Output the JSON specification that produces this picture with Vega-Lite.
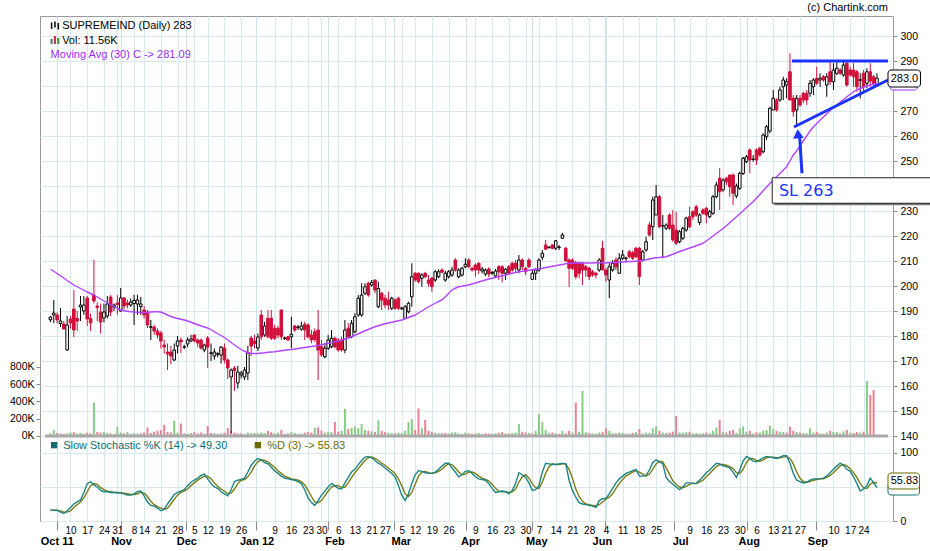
{
"$schema": "https://vega.github.io/schema/vega-lite/v6.json",
"width": 853, "height": 505,
"autosize": {"type": "none"},
"padding": {"left": 40, "top": 16, "right": 37, "bottom": 30},
"background": "#ffffff",
"config": {
  "view": {"stroke": "#9a9a9a", "strokeWidth": 1},
  "font": "Liberation Sans",
  "text": {"font": "Liberation Sans"},
  "axis": {"domain": false, "labelFont": "Liberation Sans", "gridColor": "#d8e9ee", "gridOpacity": 1, "gridWidth": 1, "tickColor": "#8a8a8a", "labelColor": "#000000"}
},
"datasets": {"p": [
{"i":0,"o":186.5,"h":188,"l":185.5,"c":187.6,"v":30,"m":206.7,"k":16,"d":16},
{"i":1,"o":188.4,"h":194.4,"l":185.2,"c":189.2,"v":70,"m":205.9,"k":16,"d":16},
{"i":2,"o":188.4,"h":189.5,"l":185,"c":186.4,"v":35,"m":205,"k":15.5,"d":16},
{"i":3,"o":185,"h":191.2,"l":183.6,"c":186,"v":28,"m":204.1,"k":13,"d":15},
{"i":4,"o":184.8,"h":186,"l":183,"c":182.8,"v":25,"m":203.2,"k":11,"d":13},
{"i":5,"o":174.4,"h":188,"l":174,"c":184.4,"v":30,"m":202.2,"k":15,"d":13},
{"i":6,"o":186.8,"h":188,"l":183,"c":185.2,"v":42,"m":201.3,"k":20,"d":15},
{"i":7,"o":190.8,"h":198.4,"l":179.6,"c":182.4,"v":45,"m":200.4,"k":25,"d":20},
{"i":8,"o":187,"h":190,"l":182,"c":186,"v":30,"m":199.7,"k":28,"d":24},
{"i":9,"o":191.6,"h":196,"l":186,"c":192.4,"v":35,"m":199,"k":31,"d":28},
{"i":10,"o":190,"h":196,"l":188.5,"c":192.4,"v":28,"m":198.3,"k":42,"d":34},
{"i":11,"o":195.2,"h":196,"l":184,"c":186.8,"v":40,"m":197.6,"k":55,"d":43},
{"i":12,"o":187,"h":189,"l":182,"c":185.2,"v":30,"m":197,"k":58,"d":52},
{"i":13,"o":196.4,"h":210.4,"l":193,"c":194,"v":385,"m":196.4,"k":53,"d":55},
{"i":14,"o":192,"h":193.5,"l":186,"c":191.4,"v":45,"m":195.6,"k":50,"d":54},
{"i":15,"o":189.6,"h":193,"l":181,"c":185.6,"v":40,"m":194.8,"k":45,"d":49},
{"i":16,"o":187.2,"h":193,"l":185.5,"c":189.6,"v":50,"m":194,"k":43,"d":46},
{"i":17,"o":188,"h":196,"l":187,"c":192.8,"v":35,"m":193.3,"k":43,"d":44},
{"i":18,"o":195.6,"h":196.4,"l":188,"c":189.6,"v":30,"m":192.5,"k":42,"d":43},
{"i":19,"o":191.6,"h":193,"l":190,"c":192.4,"v":22,"m":191.8,"k":42,"d":42},
{"i":20,"o":193.2,"h":196.4,"l":188.5,"c":192.6,"v":108,"m":191,"k":41.5,"d":42},
{"i":21,"o":190,"h":199.2,"l":189.8,"c":195.2,"v":40,"m":190.4,"k":41,"d":41.5},
{"i":22,"o":195.2,"h":195.6,"l":190.5,"c":192,"v":30,"m":190.1,"k":40,"d":41},
{"i":23,"o":193.2,"h":194.5,"l":191,"c":192.4,"v":45,"m":189.9,"k":38,"d":40},
{"i":24,"o":192.4,"h":195,"l":191.6,"c":193.6,"v":25,"m":189.7,"k":38,"d":39},
{"i":25,"o":193,"h":196.5,"l":184.4,"c":194.2,"v":35,"m":189.6,"k":40,"d":39},
{"i":26,"o":192.8,"h":196.5,"l":188.5,"c":194.4,"v":25,"m":189.5,"k":43,"d":40},
{"i":27,"o":191.8,"h":195.6,"l":188.5,"c":192.8,"v":30,"m":189.4,"k":44,"d":42},
{"i":28,"o":190.4,"h":192,"l":187,"c":188.4,"v":40,"m":189.3,"k":37,"d":41},
{"i":29,"o":189.6,"h":190.4,"l":183.2,"c":184.4,"v":100,"m":189.5,"k":28,"d":36},
{"i":30,"o":183.5,"h":186.4,"l":178.4,"c":183.7,"v":35,"m":189.6,"k":23,"d":29},
{"i":31,"o":183.6,"h":184.5,"l":180.5,"c":182,"v":50,"m":189.7,"k":22,"d":24},
{"i":32,"o":182,"h":183,"l":179,"c":180.4,"v":60,"m":189.7,"k":19,"d":21},
{"i":33,"o":181.2,"h":182,"l":175,"c":178,"v":70,"m":189.6,"k":15,"d":19},
{"i":34,"o":176.4,"h":178.5,"l":173,"c":175.6,"v":130,"m":189,"k":17,"d":17},
{"i":35,"o":173.6,"h":177,"l":166.4,"c":172.8,"v":45,"m":188.4,"k":25,"d":19},
{"i":36,"o":173.6,"h":176,"l":168.8,"c":172,"v":40,"m":187.8,"k":32,"d":25},
{"i":37,"o":170.4,"h":177,"l":170,"c":174.4,"v":175,"m":187.4,"k":39,"d":32},
{"i":38,"o":176,"h":180,"l":173,"c":178,"v":40,"m":187,"k":42,"d":38},
{"i":39,"o":178.4,"h":179.5,"l":173.2,"c":177.6,"v":145,"m":186.7,"k":44,"d":42},
{"i":40,"o":175.5,"h":176.5,"l":174.8,"c":175.7,"v":30,"m":186.4,"k":46,"d":44},
{"i":41,"o":176.8,"h":179.5,"l":175.5,"c":178.4,"v":25,"m":186,"k":52,"d":47},
{"i":42,"o":178,"h":180.5,"l":177.5,"c":178.8,"v":35,"m":185.5,"k":57,"d":52},
{"i":43,"o":180.4,"h":180.5,"l":177.5,"c":178,"v":45,"m":185,"k":60,"d":56},
{"i":44,"o":178.4,"h":179,"l":175.5,"c":177.2,"v":30,"m":184.5,"k":63,"d":60},
{"i":45,"o":178.4,"h":179,"l":174.5,"c":175.2,"v":40,"m":184,"k":67,"d":63},
{"i":46,"o":174.4,"h":177,"l":173.5,"c":176.4,"v":30,"m":183.6,"k":69,"d":66},
{"i":47,"o":179.2,"h":180,"l":167.2,"c":175.6,"v":116,"m":183.2,"k":62,"d":66},
{"i":48,"o":173,"h":177,"l":170,"c":173.3,"v":35,"m":182.5,"k":55,"d":62},
{"i":49,"o":172,"h":175,"l":170.5,"c":173.6,"v":30,"m":181.7,"k":50,"d":56},
{"i":50,"o":172.7,"h":173.5,"l":171.5,"c":172.9,"v":25,"m":180.9,"k":48,"d":51},
{"i":51,"o":172.4,"h":176,"l":169,"c":175.6,"v":30,"m":180.2,"k":43,"d":47},
{"i":52,"o":175.2,"h":177,"l":169,"c":170.4,"v":40,"m":179.4,"k":40,"d":44},
{"i":53,"o":170.4,"h":171,"l":162.8,"c":167.2,"v":93,"m":178.4,"k":37,"d":40},
{"i":54,"o":163.6,"h":167,"l":141.2,"c":166.4,"v":60,"m":177.4,"k":46,"d":41},
{"i":55,"o":167.2,"h":168,"l":158,"c":166.2,"v":40,"m":176.4,"k":58,"d":47},
{"i":56,"o":161.2,"h":168,"l":159,"c":165.6,"v":30,"m":175.5,"k":60,"d":55},
{"i":57,"o":164.4,"h":166,"l":163,"c":165.2,"v":30,"m":174.6,"k":61,"d":60},
{"i":58,"o":163.6,"h":167.6,"l":162.4,"c":166.4,"v":20,"m":173.9,"k":63,"d":61},
{"i":59,"o":165.2,"h":176,"l":162.4,"c":173.2,"v":40,"m":173.4,"k":72,"d":65},
{"i":60,"o":179.2,"h":180,"l":172,"c":176,"v":30,"m":173.1,"k":82,"d":72},
{"i":61,"o":178,"h":180.5,"l":175,"c":177,"v":35,"m":173,"k":88,"d":81},
{"i":62,"o":175.2,"h":181,"l":174,"c":179.6,"v":30,"m":173,"k":92,"d":87},
{"i":63,"o":188.4,"h":190.4,"l":178.4,"c":179.7,"v":40,"m":173.2,"k":90,"d":90},
{"i":64,"o":180.4,"h":185.7,"l":179.7,"c":184,"v":35,"m":173.3,"k":86,"d":89},
{"i":65,"o":187.1,"h":190.4,"l":179,"c":179.7,"v":60,"m":173.5,"k":84,"d":87},
{"i":66,"o":187.1,"h":190.4,"l":178.4,"c":179.1,"v":45,"m":173.6,"k":79,"d":83},
{"i":67,"o":183.1,"h":184.4,"l":178.4,"c":179.1,"v":30,"m":173.7,"k":74,"d":79},
{"i":68,"o":183.1,"h":184,"l":179,"c":180.4,"v":40,"m":173.9,"k":70,"d":74},
{"i":69,"o":190.4,"h":190.4,"l":178.4,"c":179.7,"v":70,"m":174.1,"k":66,"d":70},
{"i":70,"o":179,"h":179.7,"l":178.4,"c":179.2,"v":25,"m":174.3,"k":63,"d":66},
{"i":71,"o":179.7,"h":180,"l":178,"c":178.4,"v":30,"m":174.5,"k":62,"d":64},
{"i":72,"o":179.7,"h":187.7,"l":175.1,"c":180.7,"v":45,"m":174.6,"k":61,"d":62},
{"i":73,"o":184,"h":184.4,"l":181.7,"c":182.4,"v":35,"m":174.8,"k":60,"d":61},
{"i":74,"o":183.4,"h":184.4,"l":182.4,"c":183.6,"v":25,"m":175,"k":58,"d":60},
{"i":75,"o":182.7,"h":185.7,"l":182.1,"c":184,"v":30,"m":175.2,"k":55,"d":58},
{"i":76,"o":184.7,"h":185.7,"l":178.4,"c":182.4,"v":40,"m":175.4,"k":46,"d":53},
{"i":77,"o":184.4,"h":185.1,"l":179.1,"c":179.7,"v":45,"m":175.6,"k":34,"d":45},
{"i":78,"o":180.4,"h":182.4,"l":177.1,"c":178.4,"v":40,"m":175.8,"k":27,"d":36},
{"i":79,"o":181.7,"h":183.1,"l":177.7,"c":178.6,"v":95,"m":176,"k":23,"d":28},
{"i":80,"o":182.4,"h":190.4,"l":162.4,"c":174.4,"v":100,"m":176.2,"k":30,"d":27},
{"i":81,"o":175.7,"h":178.4,"l":171.7,"c":172.4,"v":60,"m":176.5,"k":38,"d":30},
{"i":82,"o":171.7,"h":177.1,"l":171.1,"c":175.1,"v":40,"m":176.8,"k":44,"d":37},
{"i":83,"o":175.1,"h":180.4,"l":174.4,"c":178.4,"v":50,"m":177.1,"k":50,"d":44},
{"i":84,"o":175.7,"h":182.4,"l":175.1,"c":179.1,"v":45,"m":177.4,"k":55,"d":50},
{"i":85,"o":179.1,"h":179.7,"l":175.1,"c":175.7,"v":162,"m":177.7,"k":52,"d":52},
{"i":86,"o":178.4,"h":179.1,"l":173.7,"c":174.4,"v":50,"m":178,"k":48,"d":52},
{"i":87,"o":178.4,"h":179.7,"l":173.7,"c":174.4,"v":60,"m":178.4,"k":47,"d":49},
{"i":88,"o":174.4,"h":186.4,"l":173.1,"c":182.4,"v":313,"m":178.8,"k":56,"d":50},
{"i":89,"o":183.1,"h":185.1,"l":179.1,"c":179.7,"v":80,"m":179.2,"k":64,"d":56},
{"i":90,"o":179.7,"h":186.4,"l":179.1,"c":185.1,"v":95,"m":179.7,"k":72,"d":64},
{"i":91,"o":181.7,"h":189.1,"l":181.1,"c":187.7,"v":110,"m":180.3,"k":76,"d":71},
{"i":92,"o":188.4,"h":196.4,"l":187.7,"c":195.1,"v":90,"m":180.9,"k":83,"d":77},
{"i":93,"o":188.4,"h":201.1,"l":187.7,"c":196.4,"v":140,"m":181.5,"k":89,"d":83},
{"i":94,"o":197.1,"h":201.1,"l":196.4,"c":199.7,"v":70,"m":182.1,"k":94,"d":89},
{"i":95,"o":201.1,"h":201.7,"l":195.7,"c":196.4,"v":60,"m":182.6,"k":95,"d":93},
{"i":96,"o":200.4,"h":202.4,"l":199.7,"c":201.4,"v":55,"m":183.2,"k":93,"d":94},
{"i":97,"o":202.4,"h":202.7,"l":197.1,"c":198.4,"v":45,"m":183.7,"k":89,"d":92},
{"i":98,"o":191.7,"h":201.7,"l":191.1,"c":199,"v":183,"m":184.1,"k":85,"d":89},
{"i":99,"o":197.1,"h":197.7,"l":190.4,"c":194.4,"v":60,"m":184.5,"k":82,"d":85},
{"i":100,"o":195.1,"h":196.4,"l":191.1,"c":192.4,"v":45,"m":184.9,"k":78,"d":82},
{"i":101,"o":194.4,"h":197.7,"l":190.4,"c":192.4,"v":40,"m":185.2,"k":74,"d":78},
{"i":102,"o":191.1,"h":195.7,"l":190.4,"c":195.1,"v":35,"m":185.5,"k":70,"d":74},
{"i":103,"o":194.4,"h":195.1,"l":190.4,"c":191.1,"v":30,"m":185.8,"k":65,"d":70},
{"i":104,"o":195.1,"h":195.7,"l":190.4,"c":191.1,"v":40,"m":186.1,"k":52,"d":62},
{"i":105,"o":190.9,"h":191.7,"l":190.4,"c":191.2,"v":35,"m":186.4,"k":38,"d":52},
{"i":106,"o":187.1,"h":192.4,"l":186.7,"c":191.7,"v":60,"m":186.9,"k":30,"d":40},
{"i":107,"o":189.7,"h":193.7,"l":189.1,"c":193.1,"v":158,"m":187.4,"k":40,"d":36},
{"i":108,"o":195.7,"h":209.1,"l":191.7,"c":203.7,"v":197,"m":187.9,"k":55,"d":42},
{"i":109,"o":205.1,"h":205.7,"l":201.7,"c":202.4,"v":70,"m":188.4,"k":68,"d":54},
{"i":110,"o":205.1,"h":205.4,"l":201.1,"c":201.7,"v":320,"m":189.2,"k":74,"d":66},
{"i":111,"o":203.1,"h":205.1,"l":199.7,"c":204.4,"v":90,"m":190,"k":73,"d":72},
{"i":112,"o":205.1,"h":205.7,"l":203.1,"c":203.7,"v":186,"m":190.9,"k":71,"d":73},
{"i":113,"o":202.4,"h":204.4,"l":199.7,"c":201.1,"v":60,"m":191.7,"k":70,"d":71},
{"i":114,"o":203.1,"h":203.7,"l":197.7,"c":199.7,"v":50,"m":192.4,"k":70,"d":70},
{"i":115,"o":202.4,"h":206.4,"l":201.7,"c":205.7,"v":40,"m":193.1,"k":72,"d":71},
{"i":116,"o":203.7,"h":206.7,"l":203.1,"c":205.7,"v":35,"m":193.8,"k":76,"d":73},
{"i":117,"o":206.4,"h":207.1,"l":205.1,"c":205.5,"v":30,"m":194.4,"k":81,"d":76},
{"i":118,"o":202.4,"h":206.1,"l":201.7,"c":205.1,"v":35,"m":195.7,"k":85,"d":81},
{"i":119,"o":203.7,"h":206.4,"l":203,"c":205.7,"v":30,"m":197,"k":85,"d":84},
{"i":120,"o":204.4,"h":207.7,"l":203.7,"c":206.4,"v":40,"m":198.4,"k":78,"d":83},
{"i":121,"o":210.4,"h":211.1,"l":205.7,"c":206.4,"v":45,"m":199.1,"k":72,"d":78},
{"i":122,"o":203.7,"h":207.1,"l":203.1,"c":206.4,"v":30,"m":199.7,"k":65,"d":72},
{"i":123,"o":204.4,"h":207.7,"l":203.7,"c":207.1,"v":25,"m":199.9,"k":68,"d":68},
{"i":124,"o":207.7,"h":211.1,"l":207.1,"c":208.7,"v":40,"m":200.2,"k":73,"d":69},
{"i":125,"o":210.4,"h":211.1,"l":207.1,"c":207.7,"v":30,"m":200.4,"k":74,"d":72},
{"i":126,"o":207.1,"h":207.7,"l":205.7,"c":206.4,"v":25,"m":200.8,"k":70,"d":72},
{"i":127,"o":208.4,"h":209.1,"l":203.7,"c":206.4,"v":30,"m":201.2,"k":65,"d":70},
{"i":128,"o":209.1,"h":209.5,"l":204.8,"c":206.4,"v":35,"m":201.6,"k":62,"d":66},
{"i":129,"o":206,"h":207.7,"l":205.1,"c":206.8,"v":25,"m":202,"k":61,"d":63},
{"i":130,"o":204.8,"h":207,"l":204,"c":206.4,"v":30,"m":202.4,"k":60,"d":61},
{"i":131,"o":206.8,"h":207.5,"l":203.5,"c":204.8,"v":28,"m":202.8,"k":55,"d":59},
{"i":132,"o":205.1,"h":206,"l":204.5,"c":205.4,"v":25,"m":203.1,"k":48,"d":54},
{"i":133,"o":204,"h":206.8,"l":203.5,"c":206,"v":30,"m":203.4,"k":42,"d":48},
{"i":134,"o":207.7,"h":208.4,"l":202.4,"c":205.7,"v":35,"m":203.8,"k":43,"d":44},
{"i":135,"o":207.7,"h":208.4,"l":201.4,"c":205.1,"v":45,"m":204.1,"k":44,"d":43},
{"i":136,"o":205.1,"h":207.1,"l":202.4,"c":206.7,"v":30,"m":204.4,"k":43,"d":43},
{"i":137,"o":207.7,"h":208.4,"l":204.4,"c":205.1,"v":28,"m":204.8,"k":40,"d":42},
{"i":138,"o":209.1,"h":209.7,"l":205.7,"c":206.4,"v":35,"m":205.1,"k":45,"d":43},
{"i":139,"o":209.1,"h":210.4,"l":205.7,"c":207.1,"v":40,"m":205.4,"k":55,"d":47},
{"i":140,"o":206.4,"h":212.4,"l":205.1,"c":210.4,"v":140,"m":205.7,"k":71,"d":57},
{"i":141,"o":210.4,"h":211.1,"l":206.4,"c":207.7,"v":50,"m":205.9,"k":68,"d":65},
{"i":142,"o":207.1,"h":207.7,"l":204.4,"c":205.7,"v":40,"m":206.1,"k":64,"d":68},
{"i":143,"o":210.4,"h":211.1,"l":207.1,"c":207.7,"v":35,"m":206.3,"k":56,"d":63},
{"i":144,"o":202.7,"h":206.4,"l":202.4,"c":205.1,"v":30,"m":206.5,"k":45,"d":55},
{"i":145,"o":205.1,"h":207.1,"l":202.4,"c":206.4,"v":60,"m":206.7,"k":46,"d":49},
{"i":146,"o":206.4,"h":211.1,"l":205.7,"c":210.4,"v":255,"m":206.9,"k":52,"d":48},
{"i":147,"o":211.5,"h":214.4,"l":210.4,"c":213.1,"v":162,"m":207.1,"k":72,"d":57},
{"i":148,"o":216.4,"h":218.4,"l":214.7,"c":214.7,"v":70,"m":207.4,"k":85,"d":70},
{"i":149,"o":215.3,"h":215.8,"l":215.1,"c":215.6,"v":35,"m":207.6,"k":84,"d":80},
{"i":150,"o":216.4,"h":216.7,"l":214.7,"c":215.1,"v":40,"m":207.9,"k":83,"d":84},
{"i":151,"o":215.1,"h":218.4,"l":214.4,"c":218.1,"v":30,"m":208.1,"k":83,"d":83},
{"i":152,"o":215.4,"h":216.4,"l":214.4,"c":215.6,"v":25,"m":208.4,"k":84,"d":83},
{"i":153,"o":219.1,"h":221.3,"l":218.8,"c":220.4,"v":60,"m":208.6,"k":85,"d":84},
{"i":154,"o":215.1,"h":215.7,"l":209.7,"c":210.1,"v":30,"m":208.9,"k":84,"d":84},
{"i":155,"o":210.4,"h":211.1,"l":199.7,"c":207.1,"v":60,"m":209.1,"k":60,"d":76},
{"i":156,"o":210.4,"h":211.1,"l":206.4,"c":207.1,"v":40,"m":209.1,"k":45,"d":63},
{"i":157,"o":209.3,"h":210,"l":202.7,"c":203.7,"v":386,"m":209.2,"k":35,"d":47},
{"i":158,"o":209.3,"h":209.7,"l":203.1,"c":205.1,"v":50,"m":209.2,"k":27,"d":36},
{"i":159,"o":209.1,"h":209.7,"l":200.4,"c":206.4,"v":522,"m":209.2,"k":25,"d":29},
{"i":160,"o":207.7,"h":208.4,"l":203.7,"c":206.4,"v":45,"m":209.2,"k":24,"d":25},
{"i":161,"o":207.1,"h":207.7,"l":202.4,"c":203.7,"v":35,"m":209.2,"k":23,"d":24},
{"i":162,"o":205.7,"h":206.4,"l":203.7,"c":204.4,"v":30,"m":209.2,"k":22,"d":23},
{"i":163,"o":205.1,"h":205.7,"l":203.1,"c":204.4,"v":25,"m":209.3,"k":20,"d":22},
{"i":164,"o":206.4,"h":211.1,"l":205.7,"c":210.4,"v":40,"m":209.3,"k":30,"d":24},
{"i":165,"o":215.1,"h":218.1,"l":206.4,"c":206.4,"v":45,"m":209.3,"k":33,"d":28},
{"i":166,"o":206.4,"h":207.1,"l":201.7,"c":204.4,"v":90,"m":209.3,"k":33,"d":32},
{"i":167,"o":202.4,"h":209.1,"l":195.1,"c":207.7,"v":60,"m":209.3,"k":40,"d":35},
{"i":168,"o":206.4,"h":210.4,"l":205.7,"c":209.1,"v":35,"m":209.4,"k":48,"d":40},
{"i":169,"o":210.4,"h":211.5,"l":206.4,"c":207.7,"v":30,"m":209.4,"k":56,"d":48},
{"i":170,"o":205.1,"h":213.1,"l":205.1,"c":211.1,"v":40,"m":209.5,"k":62,"d":55},
{"i":171,"o":211.1,"h":214.4,"l":210.4,"c":212.4,"v":35,"m":209.6,"k":66,"d":61},
{"i":172,"o":211,"h":211.7,"l":209.7,"c":211.2,"v":25,"m":209.7,"k":70,"d":66},
{"i":173,"o":213.7,"h":214.4,"l":211.1,"c":211.7,"v":30,"m":209.8,"k":72,"d":69},
{"i":174,"o":213.3,"h":214.1,"l":210.4,"c":211.1,"v":35,"m":209.8,"k":74,"d":72},
{"i":175,"o":215.1,"h":215.7,"l":211.1,"c":211.7,"v":45,"m":209.9,"k":76,"d":74},
{"i":176,"o":215.1,"h":215.7,"l":200.4,"c":203.7,"v":80,"m":210,"k":66,"d":72},
{"i":177,"o":210.4,"h":214.4,"l":209.7,"c":213.7,"v":30,"m":210.3,"k":66,"d":69},
{"i":178,"o":214.4,"h":219.7,"l":213.7,"c":217.7,"v":40,"m":210.5,"k":67,"d":66},
{"i":179,"o":224.4,"h":225.7,"l":219.7,"c":220.4,"v":35,"m":210.8,"k":75,"d":69},
{"i":180,"o":223.7,"h":235.7,"l":218.4,"c":234.4,"v":90,"m":211.1,"k":86,"d":76},
{"i":181,"o":228.4,"h":240.4,"l":228.4,"c":235.7,"v":110,"m":211.3,"k":90,"d":84},
{"i":182,"o":235.7,"h":236.4,"l":223.1,"c":223.7,"v":60,"m":211.4,"k":87,"d":88},
{"i":183,"o":224,"h":228.4,"l":211.1,"c":224.2,"v":40,"m":211.6,"k":84,"d":87},
{"i":184,"o":223.1,"h":225.1,"l":222.4,"c":224.4,"v":35,"m":211.7,"k":64,"d":78},
{"i":185,"o":228.4,"h":229.1,"l":222.4,"c":223.1,"v":40,"m":212.2,"k":58,"d":69},
{"i":186,"o":224.4,"h":230.4,"l":217.7,"c":218.4,"v":50,"m":212.7,"k":54,"d":59},
{"i":187,"o":222.4,"h":229.7,"l":216.4,"c":217.1,"v":232,"m":213.3,"k":50,"d":54},
{"i":188,"o":217.7,"h":222.4,"l":217.1,"c":221.7,"v":40,"m":213.8,"k":46,"d":50},
{"i":189,"o":219.1,"h":223.7,"l":218.4,"c":223.1,"v":35,"m":214.2,"k":50,"d":49},
{"i":190,"o":222.4,"h":227.7,"l":221.7,"c":227.1,"v":45,"m":214.7,"k":56,"d":51},
{"i":191,"o":227.7,"h":231.7,"l":223.1,"c":223.7,"v":50,"m":215.2,"k":56,"d":54},
{"i":192,"o":229.7,"h":230.4,"l":226.4,"c":227.7,"v":30,"m":215.6,"k":55,"d":56},
{"i":193,"o":231.7,"h":232.4,"l":227.7,"c":228.4,"v":35,"m":216.1,"k":55,"d":55},
{"i":194,"o":225.4,"h":229.1,"l":224.4,"c":228.4,"v":25,"m":216.6,"k":60,"d":57},
{"i":195,"o":230.4,"h":231.1,"l":228.4,"c":229.1,"v":30,"m":217.1,"k":65,"d":60},
{"i":196,"o":231.1,"h":231.7,"l":225.1,"c":228.4,"v":40,"m":218,"k":71,"d":65},
{"i":197,"o":227.7,"h":230.4,"l":227.1,"c":229.7,"v":30,"m":219,"k":75,"d":70},
{"i":198,"o":229.1,"h":236.4,"l":228.4,"c":235.7,"v":60,"m":220,"k":80,"d":75},
{"i":199,"o":235.7,"h":241.7,"l":235.1,"c":240.4,"v":98,"m":221,"k":85,"d":80},
{"i":200,"o":243.1,"h":247.1,"l":230.4,"c":237.7,"v":186,"m":222,"k":84,"d":83},
{"i":201,"o":238.4,"h":243.1,"l":237.7,"c":242.4,"v":50,"m":223,"k":81,"d":83},
{"i":202,"o":243.1,"h":243.7,"l":240.4,"c":241.7,"v":40,"m":224.1,"k":80,"d":82},
{"i":203,"o":244.4,"h":244.4,"l":235.7,"c":239.7,"v":60,"m":225.3,"k":78,"d":80},
{"i":204,"o":244.4,"h":245.1,"l":232.4,"c":237.1,"v":70,"m":226.5,"k":72,"d":77},
{"i":205,"o":236,"h":241,"l":235.1,"c":240,"v":35,"m":227.7,"k":64,"d":71},
{"i":206,"o":239.1,"h":245.7,"l":238.4,"c":245.1,"v":90,"m":228.9,"k":75,"d":70},
{"i":207,"o":245,"h":251.7,"l":244.4,"c":251.1,"v":110,"m":230.1,"k":88,"d":76},
{"i":208,"o":249.7,"h":252.4,"l":249.1,"c":251.7,"v":50,"m":231.3,"k":95,"d":86},
{"i":209,"o":254.4,"h":255.1,"l":245.1,"c":250.4,"v":60,"m":232.5,"k":92,"d":92},
{"i":210,"o":250.6,"h":252.4,"l":249.7,"c":250.8,"v":30,"m":233.7,"k":88,"d":92},
{"i":211,"o":254.4,"h":255.1,"l":248.4,"c":250.4,"v":45,"m":235.1,"k":87,"d":89},
{"i":212,"o":255.1,"h":255.7,"l":251.7,"c":252.4,"v":40,"m":236.6,"k":90,"d":88},
{"i":213,"o":253.7,"h":261.1,"l":253.1,"c":260.4,"v":60,"m":238.1,"k":93,"d":90},
{"i":214,"o":259.7,"h":264.4,"l":258.4,"c":263.7,"v":70,"m":239.6,"k":95,"d":93},
{"i":215,"o":262,"h":271.7,"l":261.1,"c":271.1,"v":120,"m":241,"k":94,"d":94},
{"i":216,"o":270.4,"h":278.4,"l":270.4,"c":275.1,"v":80,"m":242.4,"k":93,"d":94},
{"i":217,"o":274.4,"h":275.1,"l":269.7,"c":270.4,"v":60,"m":243.7,"k":92,"d":93},
{"i":218,"o":274.4,"h":279.7,"l":273.7,"c":278.4,"v":50,"m":245,"k":94,"d":93},
{"i":219,"o":279.7,"h":283.7,"l":274.4,"c":282.4,"v":45,"m":246.4,"k":96,"d":94},
{"i":220,"o":280.4,"h":283.1,"l":275.1,"c":281.7,"v":40,"m":247.7,"k":96,"d":95},
{"i":221,"o":285.7,"h":293.1,"l":274.4,"c":274.4,"v":108,"m":250,"k":85,"d":92},
{"i":222,"o":275.1,"h":276.4,"l":267.7,"c":269.7,"v":60,"m":252.4,"k":70,"d":84},
{"i":223,"o":270.4,"h":276.4,"l":264.4,"c":275.1,"v":45,"m":254,"k":60,"d":72},
{"i":224,"o":275.1,"h":276.4,"l":271.7,"c":272.4,"v":40,"m":256,"k":58,"d":63},
{"i":225,"o":277.1,"h":277.7,"l":273.1,"c":274.4,"v":35,"m":258,"k":56,"d":58},
{"i":226,"o":277.1,"h":278.4,"l":272.4,"c":274.4,"v":30,"m":260,"k":57,"d":57},
{"i":227,"o":277.1,"h":282.4,"l":275.7,"c":281.1,"v":90,"m":262,"k":60,"d":58},
{"i":228,"o":279.7,"h":283.1,"l":276.4,"c":282.4,"v":40,"m":263.7,"k":62,"d":60},
{"i":229,"o":283.1,"h":287.7,"l":280.4,"c":281.1,"v":50,"m":265,"k":62,"d":61},
{"i":230,"o":282.4,"h":285.1,"l":279.7,"c":283.1,"v":30,"m":266.3,"k":62,"d":62},
{"i":231,"o":283.7,"h":284.4,"l":281.7,"c":282.4,"v":25,"m":267.6,"k":63,"d":62},
{"i":232,"o":280.4,"h":285.1,"l":275.7,"c":283.7,"v":40,"m":268.9,"k":66,"d":64},
{"i":233,"o":285.7,"h":289.7,"l":280.4,"c":281.7,"v":60,"m":270.2,"k":71,"d":67},
{"i":234,"o":281.7,"h":289.1,"l":278.4,"c":286.4,"v":50,"m":271.4,"k":76,"d":71},
{"i":235,"o":285.1,"h":289.7,"l":284.4,"c":287.1,"v":45,"m":272.4,"k":81,"d":76},
{"i":236,"o":286.4,"h":287.1,"l":284.4,"c":285.1,"v":30,"m":273.5,"k":85,"d":81},
{"i":237,"o":284.4,"h":289.7,"l":283.7,"c":288.4,"v":55,"m":274.6,"k":82,"d":83},
{"i":238,"o":289.1,"h":289.7,"l":279.7,"c":280.4,"v":70,"m":275.7,"k":76,"d":81},
{"i":239,"o":286.4,"h":287.7,"l":283.7,"c":284.4,"v":40,"m":276.7,"k":73,"d":77},
{"i":240,"o":286.4,"h":289.1,"l":279.7,"c":283.7,"v":35,"m":277.7,"k":65,"d":71},
{"i":241,"o":285.7,"h":286.4,"l":277.7,"c":279.7,"v":45,"m":278.4,"k":55,"d":64},
{"i":242,"o":282.3,"h":285.1,"l":275.1,"c":282.5,"v":40,"m":279,"k":44,"d":55},
{"i":243,"o":285.1,"h":286.4,"l":277.1,"c":279.7,"v":50,"m":279.5,"k":47,"d":49},
{"i":244,"o":281.1,"h":287.1,"l":279.1,"c":285.7,"v":638,"m":280,"k":52,"d":48},
{"i":245,"o":285.7,"h":289.1,"l":279.7,"c":282,"v":475,"m":280.4,"k":63,"d":54},
{"i":246,"o":283.7,"h":284.4,"l":279.7,"c":281.1,"v":534,"m":280.8,"k":56,"d":57},
{"i":247,"o":280.4,"h":285.1,"l":279.7,"c":283.1,"v":11.56,"m":281.09,"k":49.3,"d":55.83}
]},
"data": {"name": "p"},
"layer": [
  {
    "data": {"values": [{"q": 200}]},
    "mark": {"type": "point", "opacity": 0},
    "encoding": {
      "y": {"field": "q", "type": "quantitative", "scale": {"domain": [106, 308], "nice": false, "zero": false},
        "axis": {"orient": "right", "values": [140,150,160,170,180,190,200,210,220,230,240,250,260,270,280,290,300], "labelExpr": "datum.value == 240 || datum.value == 280 ? '' : datum.label", "grid": true, "tickSize": 4, "labelPadding": 3, "labelFontSize": 10.5, "title": null}}
    }
  },
  {
    "data": {"values": [{"q": 50}]},
    "mark": {"type": "point", "opacity": 0},
    "encoding": {
      "y": {"field": "q", "type": "quantitative", "scale": {"domain": [0, 742.6], "nice": false, "zero": false},
        "axis": {"orient": "right", "values": [0, 50, 100], "labelExpr": "datum.value == 50 ? '' : datum.label", "grid": true, "tickSize": 4, "labelPadding": 3, "labelFontSize": 10.5, "title": null}}
    }
  },
  {
    "data": {"values": [{"i": 0}]},
    "mark": {"type": "point", "opacity": 0},
    "encoding": {
      "x": {"field": "i", "type": "quantitative", "scale": {"domain": [-1.62, 250.3], "nice": false, "zero": false},
        "axis": {"orient": "bottom", "values": [6,11,16,20,25,28,33,38,43,47,52,57,67,72,77,81,86,91,96,100,105,109,114,119,127,132,137,142,146,151,156,161,166,171,176,181,191,196,201,206,211,216,220,224,234,239,243],
          "labels": false, "ticks": false, "grid": true, "title": null}}
    }
  },
  {
    "data": {"values": [{"i": 0}]},
    "mark": {"type": "point", "opacity": 0},
    "encoding": {
      "x": {"field": "i", "type": "quantitative", "scale": {"domain": [-1.62, 250.3], "nice": false, "zero": false},
        "axis": {"orient": "bottom", "values": [2,21,40.5,61.3,83.1,102.6,124.2,143.9,165.7,186.4,208.3,228.9],
          "labels": false, "ticks": true, "tickSize": 9, "grid": true, "gridColor": "#cde2e9", "title": null}}
    }
  },
  {
    "data": {"values": [{"i": 0}]},
    "mark": {"type": "point", "opacity": 0},
    "encoding": {
      "x": {"field": "i", "type": "quantitative", "scale": {"domain": [-1.62, 250.3], "nice": false, "zero": false},
        "axis": {"orient": "bottom", "values": [6,11,16,20,25,28,33,38,43,47,52,57,67,72,77,81,86,91,96,100,105,109,114,119,127,132,137,142,146,151,156,161,166,171,176,181,191,196,201,206,211,216,220,224,234,239,243],
          "labelExpr": "['10','17','24','31','8','14','21','28','5','12','19','26','9','16','23','30','6','13','21','27','5','12','19','26','9','16','23','30','7','14','21','28','4','11','18','25','9','16','23','30','6','13','21','27','10','17','24'][indexof([6,11,16,20,25,28,33,38,43,47,52,57,67,72,77,81,86,91,96,100,105,109,114,119,127,132,137,142,146,151,156,161,166,171,176,181,191,196,201,206,211,216,220,224,234,239,243], datum.value)]",
          "grid": false, "ticks": false, "labelPadding": 4, "labelFontSize": 10, "labelOverlap": false, "labelFlush": false, "labelBound": false, "title": null}}
    }
  },
  {
    "data": {"values": [{"i": 0}]},
    "mark": {"type": "point", "opacity": 0},
    "encoding": {
      "x": {"field": "i", "type": "quantitative", "scale": {"domain": [-1.62, 250.3], "nice": false, "zero": false},
        "axis": {"orient": "bottom", "values": [1.9,21.1,40.6,61.6,84.9,104.7,125.4,145.2,164.8,188.2,208.7,229.2],
          "labelExpr": "['Oct 11','Nov','Dec','Jan 12','Feb','Mar','Apr','May','Jun','Jul','Aug','Sep'][indexof([1.9,21.1,40.6,61.6,84.9,104.7,125.4,145.2,164.8,188.2,208.7,229.2], datum.value)]",
          "grid": false, "ticks": false, "labelPadding": 14, "labelFontWeight": "bold", "labelFontSize": 11, "labelOverlap": false, "labelFlush": false, "labelBound": false, "title": null}}
    }
  },
  {
    "transform": [{"window": [{"op": "lag", "field": "c", "as": "pc"}]}],
    "mark": {"type": "bar", "width": 2, "orient": "vertical"},
    "encoding": {
      "x": {"field": "i", "type": "quantitative", "scale": {"domain": [-1.62, 250.3], "nice": false, "zero": false}, "axis": null},
      "y": {"field": "v", "type": "quantitative", "stack": null, "scale": {"domain": [-985.5, 4869.5], "nice": false, "zero": false},
        "axis": {"orient": "left", "values": [0,200,400,600,800], "labelExpr": "datum.value + 'K'", "grid": false, "tickSize": 4, "labelPadding": 2, "labelFontSize": 10.5, "title": null}},
      "color": {"condition": {"test": "datum.c >= datum.pc", "value": "#86cc86"}, "value": "#ea8296"}
    }
  },
  {
    "layer": [
      {
        "mark": {"type": "rule", "strokeWidth": 1},
        "encoding": {
          "x": {"field": "i", "type": "quantitative", "scale": {"domain": [-1.62, 250.3], "nice": false, "zero": false}, "axis": null},
          "y": {"field": "l", "type": "quantitative", "scale": {"domain": [106, 308], "nice": false, "zero": false}, "axis": null},
          "y2": {"field": "h"},
          "color": {"condition": {"test": "datum.c < datum.o", "value": "#d0103a"}, "value": "#000000"}
        }
      },
      {
        "mark": {"type": "bar", "width": 2.6, "orient": "vertical", "strokeWidth": 1},
        "encoding": {
          "x": {"field": "i", "type": "quantitative", "scale": {"domain": [-1.62, 250.3], "nice": false, "zero": false}, "axis": null},
          "y": {"field": "o", "type": "quantitative", "scale": {"domain": [106, 308], "nice": false, "zero": false}, "axis": null},
          "y2": {"field": "c"},
          "fill": {"condition": {"test": "datum.c < datum.o", "value": "#d0103a"}, "value": "#ffffff"},
          "stroke": {"condition": {"test": "datum.c < datum.o", "value": "#d0103a"}, "value": "#000000"}
        }
      },
      {
        "mark": {"type": "line", "color": "#b044ff", "strokeWidth": 1.4},
        "encoding": {
          "x": {"field": "i", "type": "quantitative", "scale": {"domain": [-1.62, 250.3], "nice": false, "zero": false}, "axis": null},
          "y": {"field": "m", "type": "quantitative", "scale": {"domain": [106, 308], "nice": false, "zero": false}, "axis": null}
        }
      },
      {
        "data": {"values": [{}]},
        "mark": {"type": "rule", "color": "#a9a9a9", "strokeWidth": 3},
        "encoding": {
          "x": {"datum": -1.62, "type": "quantitative", "scale": {"domain": [-1.62, 250.3], "nice": false, "zero": false}, "axis": null},
          "x2": {"datum": 250.3},
          "y": {"datum": 140, "type": "quantitative", "scale": {"domain": [106, 308], "nice": false, "zero": false}, "axis": null}
        }
      },
      {
        "data": {"values": [{}]},
        "mark": {"type": "rule", "color": "#1a33ff", "strokeWidth": 3},
        "encoding": {
          "x": {"datum": 221.6, "type": "quantitative", "scale": {"domain": [-1.62, 250.3], "nice": false, "zero": false}, "axis": null},
          "x2": {"datum": 250.3},
          "y": {"datum": 290, "type": "quantitative", "scale": {"domain": [106, 308], "nice": false, "zero": false}, "axis": null}
        }
      },
      {
        "data": {"values": [{}]},
        "mark": {"type": "rule", "color": "#1a33ff", "strokeWidth": 3},
        "encoding": {
          "x": {"datum": 222.2, "type": "quantitative", "scale": {"domain": [-1.62, 250.3], "nice": false, "zero": false}, "axis": null},
          "x2": {"datum": 250.3},
          "y": {"datum": 263.6, "type": "quantitative", "scale": {"domain": [106, 308], "nice": false, "zero": false}, "axis": null},
          "y2": {"datum": 282.4}
        }
      },
      {
        "data": {"values": [{}]},
        "mark": {"type": "rule", "color": "#1a33ff", "strokeWidth": 3},
        "encoding": {
          "x": {"datum": 224.6, "type": "quantitative", "scale": {"domain": [-1.62, 250.3], "nice": false, "zero": false}, "axis": null},
          "x2": {"datum": 223.9},
          "y": {"datum": 245.1, "type": "quantitative", "scale": {"domain": [106, 308], "nice": false, "zero": false}, "axis": null},
          "y2": {"datum": 259.6}
        }
      },
      {
        "data": {"values": [{}]},
        "mark": {"type": "point", "shape": "triangle-up", "filled": true, "color": "#1a33ff", "opacity": 1, "size": 110, "angle": -5},
        "encoding": {
          "x": {"datum": 223.4, "type": "quantitative", "scale": {"domain": [-1.62, 250.3], "nice": false, "zero": false}, "axis": null},
          "y": {"datum": 260.9, "type": "quantitative", "scale": {"domain": [106, 308], "nice": false, "zero": false}, "axis": null}
        }
      },
      {
        "data": {"values": [{}]},
        "mark": {"type": "rect", "color": "#7a7a7a"},
        "encoding": {
          "x": {"datum": 216.3, "type": "quantitative", "scale": {"domain": [-1.62, 250.3], "nice": false, "zero": false}, "axis": null},
          "x2": {"datum": 270},
          "y": {"datum": 242.5, "type": "quantitative", "scale": {"domain": [106, 308], "nice": false, "zero": false}, "axis": null},
          "y2": {"datum": 232.3}
        }
      },
      {
        "data": {"values": [{}]},
        "mark": {"type": "rect", "fill": "#ffffff", "stroke": "#222222", "strokeWidth": 1},
        "encoding": {
          "x": {"datum": 215.7, "type": "quantitative", "scale": {"domain": [-1.62, 250.3], "nice": false, "zero": false}, "axis": null},
          "x2": {"datum": 270},
          "y": {"datum": 243.3, "type": "quantitative", "scale": {"domain": [106, 308], "nice": false, "zero": false}, "axis": null},
          "y2": {"datum": 233.1}
        }
      },
      {
        "data": {"values": [{}]},
        "mark": {"type": "text", "text": "SL 263", "font": "DejaVu Sans", "fontSize": 16, "color": "#1a33ff", "align": "left", "baseline": "middle"},
        "encoding": {
          "x": {"datum": 217.7, "type": "quantitative", "scale": {"domain": [-1.62, 250.3], "nice": false, "zero": false}, "axis": null},
          "y": {"datum": 238, "type": "quantitative", "scale": {"domain": [106, 308], "nice": false, "zero": false}, "axis": null}
        }
      },
      {
        "data": {"values": [{}]},
        "mark": {"type": "rect", "fill": "#ffffff", "stroke": "#9933ff", "strokeWidth": 1, "cornerRadius": 3},
        "encoding": {
          "x": {"datum": 250.9, "type": "quantitative", "scale": {"domain": [-1.62, 250.3], "nice": false, "zero": false}, "axis": null},
          "x2": {"datum": 259.1},
          "y": {"datum": 283.2, "type": "quantitative", "scale": {"domain": [106, 308], "nice": false, "zero": false}, "axis": null},
          "y2": {"datum": 278.4}
        }
      },
      {
        "data": {"values": [{}]},
        "mark": {"type": "rect", "fill": "#ffffff", "stroke": "#000000", "strokeWidth": 1, "cornerRadius": 3},
        "encoding": {
          "x": {"datum": 250.3, "type": "quantitative", "scale": {"domain": [-1.62, 250.3], "nice": false, "zero": false}, "axis": null},
          "x2": {"datum": 260},
          "y": {"datum": 286.4, "type": "quantitative", "scale": {"domain": [106, 308], "nice": false, "zero": false}, "axis": null},
          "y2": {"datum": 279.6}
        }
      },
      {
        "data": {"values": [{}]},
        "mark": {"type": "text", "text": "283.0", "fontSize": 11, "color": "#000000", "align": "left", "baseline": "middle"},
        "encoding": {
          "x": {"datum": 251.1, "type": "quantitative", "scale": {"domain": [-1.62, 250.3], "nice": false, "zero": false}, "axis": null},
          "y": {"datum": 283, "type": "quantitative", "scale": {"domain": [106, 308], "nice": false, "zero": false}, "axis": null}
        }
      },
      {
        "data": {"values": [{}]},
        "mark": {"type": "rule", "color": "#111111", "strokeWidth": 1.6},
        "encoding": {
          "x": {"datum": 0.35, "type": "quantitative", "scale": {"domain": [-1.62, 250.3], "nice": false, "zero": false}, "axis": null},
          "y": {"datum": 302.8, "type": "quantitative", "scale": {"domain": [106, 308], "nice": false, "zero": false}, "axis": null},
          "y2": {"datum": 305.4}
        }
      },
      {
        "data": {"values": [{}]},
        "mark": {"type": "rule", "color": "#111111", "strokeWidth": 1.6},
        "encoding": {
          "x": {"datum": 1.35, "type": "quantitative", "scale": {"domain": [-1.62, 250.3], "nice": false, "zero": false}, "axis": null},
          "y": {"datum": 303.4, "type": "quantitative", "scale": {"domain": [106, 308], "nice": false, "zero": false}, "axis": null},
          "y2": {"datum": 305.8}
        }
      },
      {
        "data": {"values": [{}]},
        "mark": {"type": "rule", "color": "#111111", "strokeWidth": 1.6},
        "encoding": {
          "x": {"datum": 2.35, "type": "quantitative", "scale": {"domain": [-1.62, 250.3], "nice": false, "zero": false}, "axis": null},
          "y": {"datum": 302.6, "type": "quantitative", "scale": {"domain": [106, 308], "nice": false, "zero": false}, "axis": null},
          "y2": {"datum": 305.2}
        }
      },
      {
        "data": {"values": [{}]},
        "mark": {"type": "rule", "color": "#5a7a7a", "strokeWidth": 2.2},
        "encoding": {
          "x": {"datum": 0.35, "type": "quantitative", "scale": {"domain": [-1.62, 250.3], "nice": false, "zero": false}, "axis": null},
          "y": {"datum": 296.8, "type": "quantitative", "scale": {"domain": [106, 308], "nice": false, "zero": false}, "axis": null},
          "y2": {"datum": 298.8}
        }
      },
      {
        "data": {"values": [{}]},
        "mark": {"type": "rule", "color": "#cc3344", "strokeWidth": 2.2},
        "encoding": {
          "x": {"datum": 1.35, "type": "quantitative", "scale": {"domain": [-1.62, 250.3], "nice": false, "zero": false}, "axis": null},
          "y": {"datum": 296.8, "type": "quantitative", "scale": {"domain": [106, 308], "nice": false, "zero": false}, "axis": null},
          "y2": {"datum": 300}
        }
      },
      {
        "data": {"values": [{}]},
        "mark": {"type": "rule", "color": "#3f9a3f", "strokeWidth": 2.2},
        "encoding": {
          "x": {"datum": 2.35, "type": "quantitative", "scale": {"domain": [-1.62, 250.3], "nice": false, "zero": false}, "axis": null},
          "y": {"datum": 296.8, "type": "quantitative", "scale": {"domain": [106, 308], "nice": false, "zero": false}, "axis": null},
          "y2": {"datum": 299.2}
        }
      },
      {
        "data": {"values": [{}]},
        "mark": {"type": "text", "text": "SUPREMEIND (Daily) 283", "fontSize": 11, "color": "#000000", "align": "left", "baseline": "alphabetic"},
        "encoding": {
          "x": {"datum": 3.5, "type": "quantitative", "scale": {"domain": [-1.62, 250.3], "nice": false, "zero": false}, "axis": null},
          "y": {"datum": 302.7, "type": "quantitative", "scale": {"domain": [106, 308], "nice": false, "zero": false}, "axis": null}
        }
      },
      {
        "data": {"values": [{}]},
        "mark": {"type": "text", "text": "Vol: 11.56K", "fontSize": 11, "color": "#000000", "align": "left", "baseline": "alphabetic"},
        "encoding": {
          "x": {"datum": 3.5, "type": "quantitative", "scale": {"domain": [-1.62, 250.3], "nice": false, "zero": false}, "axis": null},
          "y": {"datum": 296.8, "type": "quantitative", "scale": {"domain": [106, 308], "nice": false, "zero": false}, "axis": null}
        }
      },
      {
        "data": {"values": [{}]},
        "mark": {"type": "text", "text": "Moving Avg (30) C -> 281.09", "fontSize": 11, "color": "#9a2bff", "align": "left", "baseline": "alphabetic"},
        "encoding": {
          "x": {"datum": 0.06, "type": "quantitative", "scale": {"domain": [-1.62, 250.3], "nice": false, "zero": false}, "axis": null},
          "y": {"datum": 291.2, "type": "quantitative", "scale": {"domain": [106, 308], "nice": false, "zero": false}, "axis": null}
        }
      },
      {
        "data": {"values": [{}]},
        "mark": {"type": "text", "text": "(c) Chartink.com", "fontSize": 11, "color": "#000000", "align": "right", "baseline": "alphabetic"},
        "encoding": {
          "x": {"datum": 250.3, "type": "quantitative", "scale": {"domain": [-1.62, 250.3], "nice": false, "zero": false}, "axis": null},
          "y": {"datum": 310, "type": "quantitative", "scale": {"domain": [106, 308], "nice": false, "zero": false}, "axis": null}
        }
      }
    ]
  },
  {
    "layer": [
      {
        "mark": {"type": "line", "color": "#7c7c14", "strokeWidth": 1.4},
        "encoding": {
          "x": {"field": "i", "type": "quantitative", "scale": {"domain": [-1.62, 250.3], "nice": false, "zero": false}, "axis": null},
          "y": {"field": "d", "type": "quantitative", "scale": {"domain": [0, 742.6], "nice": false, "zero": false}, "axis": null}
        }
      },
      {
        "mark": {"type": "line", "color": "#1a8585", "strokeWidth": 1.4},
        "encoding": {
          "x": {"field": "i", "type": "quantitative", "scale": {"domain": [-1.62, 250.3], "nice": false, "zero": false}, "axis": null},
          "y": {"field": "k", "type": "quantitative", "scale": {"domain": [0, 742.6], "nice": false, "zero": false}, "axis": null}
        }
      },
      {
        "data": {"values": [{}]},
        "mark": {"type": "point", "shape": "square", "filled": true, "color": "#0e6e6e", "opacity": 1, "size": 40},
        "encoding": {
          "x": {"datum": 1.1, "type": "quantitative", "scale": {"domain": [-1.62, 250.3], "nice": false, "zero": false}, "axis": null},
          "y": {"datum": 111.5, "type": "quantitative", "scale": {"domain": [0, 742.6], "nice": false, "zero": false}, "axis": null}
        }
      },
      {
        "data": {"values": [{}]},
        "mark": {"type": "text", "text": "Slow Stochastic %K (14) -> 49.30", "fontSize": 11, "color": "#0e6e6e", "align": "left", "baseline": "alphabetic"},
        "encoding": {
          "x": {"datum": 3.8, "type": "quantitative", "scale": {"domain": [-1.62, 250.3], "nice": false, "zero": false}, "axis": null},
          "y": {"datum": 105.4, "type": "quantitative", "scale": {"domain": [0, 742.6], "nice": false, "zero": false}, "axis": null}
        }
      },
      {
        "data": {"values": [{}]},
        "mark": {"type": "point", "shape": "square", "filled": true, "color": "#6b6b00", "opacity": 1, "size": 40},
        "encoding": {
          "x": {"datum": 62, "type": "quantitative", "scale": {"domain": [-1.62, 250.3], "nice": false, "zero": false}, "axis": null},
          "y": {"datum": 111.5, "type": "quantitative", "scale": {"domain": [0, 742.6], "nice": false, "zero": false}, "axis": null}
        }
      },
      {
        "data": {"values": [{}]},
        "mark": {"type": "text", "text": "%D (3) -> 55.83", "fontSize": 11, "color": "#6b6b00", "align": "left", "baseline": "alphabetic"},
        "encoding": {
          "x": {"datum": 64.8, "type": "quantitative", "scale": {"domain": [-1.62, 250.3], "nice": false, "zero": false}, "axis": null},
          "y": {"datum": 105.4, "type": "quantitative", "scale": {"domain": [0, 742.6], "nice": false, "zero": false}, "axis": null}
        }
      },
      {
        "data": {"values": [{}]},
        "mark": {"type": "rect", "fill": "#ffffff", "stroke": "#137070", "strokeWidth": 1, "cornerRadius": 3},
        "encoding": {
          "x": {"datum": 250.3, "type": "quantitative", "scale": {"domain": [-1.62, 250.3], "nice": false, "zero": false}, "axis": null},
          "x2": {"datum": 259.7},
          "y": {"datum": 55.9, "type": "quantitative", "scale": {"domain": [0, 742.6], "nice": false, "zero": false}, "axis": null},
          "y2": {"datum": 38.2}
        }
      },
      {
        "data": {"values": [{}]},
        "mark": {"type": "rect", "fill": "#ffffff", "stroke": "#6b6b00", "strokeWidth": 1, "cornerRadius": 3},
        "encoding": {
          "x": {"datum": 250.3, "type": "quantitative", "scale": {"domain": [-1.62, 250.3], "nice": false, "zero": false}, "axis": null},
          "x2": {"datum": 259.7},
          "y": {"datum": 70.6, "type": "quantitative", "scale": {"domain": [0, 742.6], "nice": false, "zero": false}, "axis": null},
          "y2": {"datum": 47.1}
        }
      },
      {
        "data": {"values": [{}]},
        "mark": {"type": "text", "text": "55.83", "fontSize": 11, "color": "#000000", "align": "left", "baseline": "middle"},
        "encoding": {
          "x": {"datum": 251.1, "type": "quantitative", "scale": {"domain": [-1.62, 250.3], "nice": false, "zero": false}, "axis": null},
          "y": {"datum": 59, "type": "quantitative", "scale": {"domain": [0, 742.6], "nice": false, "zero": false}, "axis": null}
        }
      }
    ]
  }
],
"resolve": {"scale": {"y": "independent"}, "axis": {"x": "independent", "y": "independent"}}
}
